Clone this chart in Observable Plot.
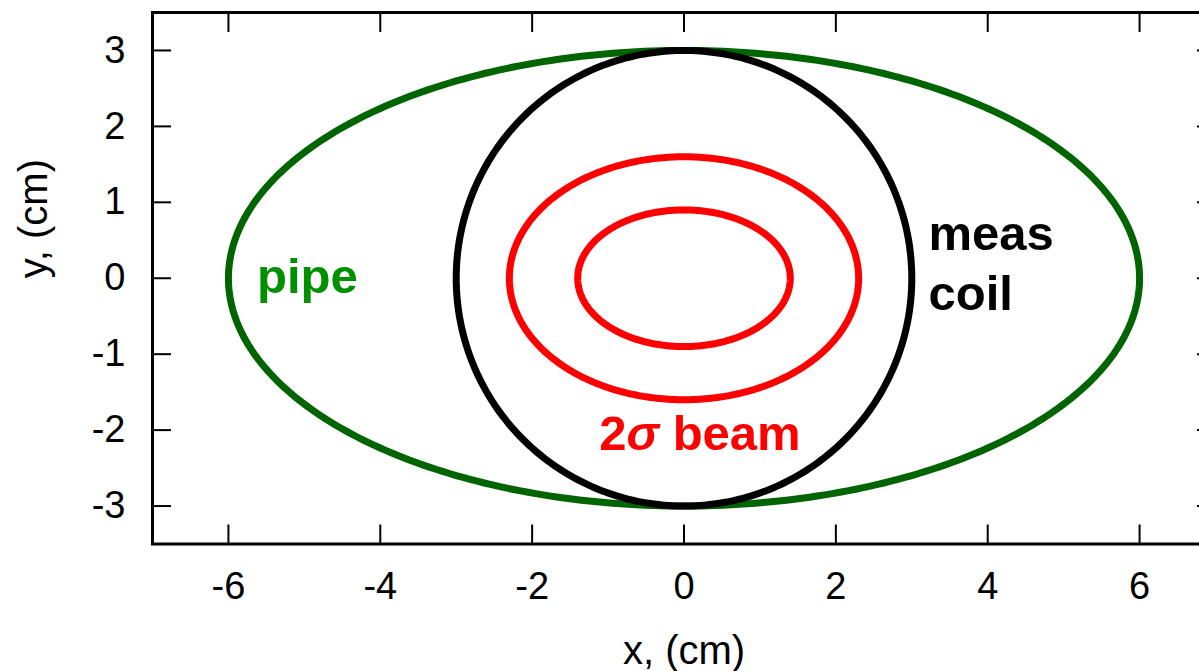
<!DOCTYPE html>
<html>
<head>
<meta charset="utf-8">
<script src="https://cdn.jsdelivr.net/npm/d3@7"></script>
<script src="https://cdn.jsdelivr.net/npm/@observablehq/plot@0.6"></script>
<style>
  html, body { margin: 0; padding: 0; background: #fff; overflow: hidden; }
  #chart svg { display: block; }
</style>
</head>
<body>
<div id="chart"></div>
<script>
// ---- data ----
const curveNames = ["pipe", "meas coil", "beam outer", "beam inner"];
const semiAxisX  = [6, 3, 2.3, 1.4];   // cm
const semiAxisY  = [3, 3, 1.6, 0.9];   // cm
const curveColors = ["#006400", "#000000", "#ff0000", "#ff0000"];

const xTicks = [-6, -4, -2, 0, 2, 4, 6];
const yTicks = [-3, -2, -1, 0, 1, 2, 3];

const labelTexts  = ["pipe", "meas", "coil", "2σ beam"];
const labelX      = [-4.96, 3.22, 3.22, 0.21];
const labelY      = [-0.19, 0.37, -0.42, -2.26];
const labelColors = ["#009000", "#000000", "#000000", "#ff0000"];
const labelAnchor = ["middle", "start", "start", "middle"];

// ---- build curve points from the semi-axes ----
const N = 360;
const pts = [];
curveNames.forEach((name, i) => {
  for (let k = 0; k <= N; k++) {
    const t = (2 * Math.PI * k) / N;
    pts.push({name, x: semiAxisX[i] * Math.cos(t), y: semiAxisY[i] * Math.sin(t), color: curveColors[i]});
  }
});
const labels = labelTexts.map((t, i) => ({text: t, x: labelX[i], y: labelY[i], color: labelColors[i], anchor: labelAnchor[i]}));

const FONT = "'Liberation Sans', Arial, Helvetica, sans-serif";
const TICKFS = 38;
const fmt = d => String(d);

const labelMarks = ["middle", "start"].map(a =>
  Plot.text(labels.filter(d => d.anchor === a), {x: "x", y: "y", text: "text", fill: d => d.color, textAnchor: a,
    lineAnchor: "bottom", fontSize: 49, fontWeight: "bold", fontFamily: FONT}));

const plot = Plot.plot({
  width: 1199,
  height: 671,
  marginTop: 12,
  marginBottom: 127.5,
  marginLeft: 152,
  marginRight: -16,
  style: {fontFamily: FONT, background: "#fff"},
  x: {domain: [-7, 7], axis: null},
  y: {domain: [-3.5, 3.5], axis: null},
  marks: [
    // inward ticks on all four sides
    Plot.axisX(xTicks, {anchor: "bottom", tickSize: -19, strokeWidth: 2, tickFormat: () => "", label: null}),
    Plot.axisX(xTicks, {anchor: "top", tickSize: -19, strokeWidth: 2, tickFormat: () => "", label: null}),
    Plot.axisY(yTicks, {anchor: "left", tickSize: -19, strokeWidth: 2, tickFormat: () => "", label: null}),
    Plot.axisY(yTicks, {anchor: "right", tickSize: -19, strokeWidth: 2, tickFormat: () => "", label: null}),
    // tick labels
    Plot.axisX(xTicks, {anchor: "bottom", tickSize: 0, tickPadding: 28, tickFormat: fmt, fontSize: TICKFS, fontFamily: FONT, label: null, fill: "#000"}),
    Plot.axisY(yTicks, {anchor: "left", tickSize: 0, tickPadding: 27, tickFormat: fmt, fontSize: TICKFS, fontFamily: FONT, label: null, fill: "#000"}),
    // curves
    Plot.line(pts, {x: "x", y: "y", z: "name", stroke: d => d.color, strokeWidth: 7, curve: "linear"}),
    // frame
    Plot.frame({stroke: "#000", strokeWidth: 3}),
    // annotations
    ...labelMarks,
    // axis titles
    Plot.text(["x, (cm)"], {frameAnchor: "bottom", dy: 120, lineAnchor: "bottom", fontSize: 40, fontFamily: FONT, fill: "#000"}),
    Plot.text(["y, (cm)"], {frameAnchor: "left", dx: -118, rotate: -90, fontSize: 40, fontFamily: FONT, fill: "#000"})
  ]
});

// italic sigma in "2σ beam"
d3.select(plot).selectAll("text").filter(function () { return this.textContent === "2σ beam"; })
  .each(function () {
    const t = d3.select(this);
    t.text(null);
    t.append("tspan").text("2");
    t.append("tspan").attr("font-style", "italic").text("σ");
    t.append("tspan").text(" beam");
  });

document.getElementById("chart").appendChild(plot);
</script>
</body>
</html>
